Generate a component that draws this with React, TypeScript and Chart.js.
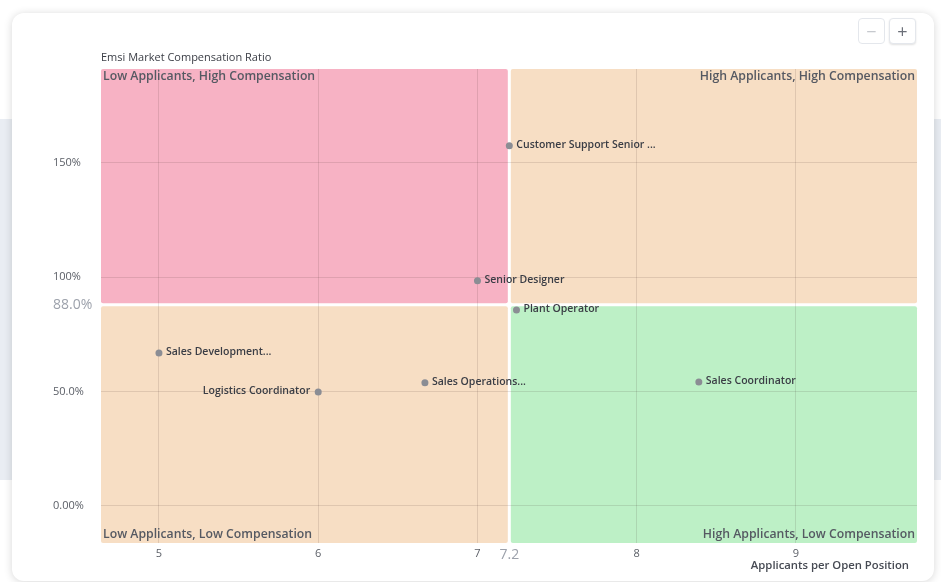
import React, { useEffect, useRef } from 'react';
import { Chart, registerables } from 'chart.js';

Chart.register(...registerables);

const jobTitles = [
  'Customer Support Senior ...',
  'Senior Designer',
  'Plant Operator',
  'Sales Development...',
  'Logistics Coordinator',
  'Sales Operations...',
  'Sales Coordinator',
];
const applicantsPerOpening = [7.2, 7.0, 7.245, 5.0, 6.0, 6.67, 8.39];
const compensationRatio = [157.4, 98.4, 85.7, 66.9, 49.8, 53.8, 54.2];
const labelOnLeft = ['Logistics Coordinator'];

const xThreshold = 7.2;
const yThreshold = 88;
const xTickValues = [5, 6, 7, 7.2, 8, 9];
const xTickLabels = ['5', '6', '7', '7.2', '8', '9'];
const yTickValues = [0, 50, 88, 100, 150];
const yTickLabels = ['0.00%', '50.0%', '88.0%', '100%', '150%'];

const quadrantNames = {
  topLeft: 'Low Applicants, High Compensation',
  topRight: 'High Applicants, High Compensation',
  bottomLeft: 'Low Applicants, Low Compensation',
  bottomRight: 'High Applicants, Low Compensation',
};
const yAxisTitle = 'Emsi Market Compensation Ratio';
const xAxisTitle = 'Applicants per Open Position';

const FONT = '"Open Sans", "Noto Sans", sans-serif';

function rr(ctx: CanvasRenderingContext2D, x: number, y: number, w: number, h: number, r: number) {
  ctx.beginPath();
  ctx.moveTo(x + r, y);
  ctx.lineTo(x + w - r, y);
  ctx.quadraticCurveTo(x + w, y, x + w, y + r);
  ctx.lineTo(x + w, y + h - r);
  ctx.quadraticCurveTo(x + w, y + h, x + w - r, y + h);
  ctx.lineTo(x + r, y + h);
  ctx.quadraticCurveTo(x, y + h, x, y + h - r);
  ctx.lineTo(x, y + r);
  ctx.quadraticCurveTo(x, y, x + r, y);
  ctx.closePath();
  ctx.fill();
}

const quadrantPlugin = {
  id: 'quadrants',
  beforeDraw(chart: any) {
    const { ctx, chartArea } = chart;
    const { left, right, top, bottom } = chartArea;
    const xs = chart.scales.x.getPixelForValue(xThreshold);
    const ys = chart.scales.y.getPixelForValue(yThreshold);
    const g = 1.5;
    ctx.save();
    ctx.fillStyle = '#f7b2c4';
    rr(ctx, left, top, xs - g - left, ys - g - top, 2);
    ctx.fillStyle = '#f7dec4';
    rr(ctx, xs + g, top, right - xs - g, ys - g - top, 2);
    rr(ctx, left, ys + g, xs - g - left, bottom - ys - g, 2);
    ctx.fillStyle = '#bdf0c6';
    rr(ctx, xs + g, ys + g, right - xs - g, bottom - ys - g, 2);
    ctx.restore();
  },
  afterDatasetsDraw(chart: any) {
    const { ctx, chartArea } = chart;
    const { left, right, top, bottom } = chartArea;
    ctx.save();
    ctx.textBaseline = 'middle';
    ctx.fillStyle = '#555962';
    ctx.font = `600 12.25px ${FONT}`;
    ctx.textAlign = 'left';
    ctx.fillText(quadrantNames.topLeft, left + 2, top + 7.5);
    ctx.fillText(quadrantNames.bottomLeft, left + 2, bottom - 8.5);
    ctx.textAlign = 'right';
    ctx.fillText(quadrantNames.topRight, right - 2, top + 7.5);
    ctx.fillText(quadrantNames.bottomRight, right - 2, bottom - 8.5);

    // point labels
    const meta = chart.getDatasetMeta(0);
    ctx.font = `600 10.5px ${FONT}`;
    ctx.fillStyle = '#3a3d45';
    meta.data.forEach((pt: any, i: number) => {
      const name = jobTitles[i];
      if (labelOnLeft.includes(name)) {
        ctx.textAlign = 'right';
        ctx.fillText(name, pt.x - 8, pt.y - 1);
      } else {
        ctx.textAlign = 'left';
        ctx.fillText(name, pt.x + 7, pt.y - 1);
      }
    });

    // axis titles
    ctx.fillStyle = '#3a3d45';
    ctx.font = `11px ${FONT}`;
    ctx.textAlign = 'left';
    ctx.fillText(yAxisTitle, left, top - 11);
    ctx.font = `600 11.3px ${FONT}`;
    ctx.fillStyle = '#464a53';
    ctx.textAlign = 'right';
    ctx.fillText(xAxisTitle, right - 8, bottom + 23);
    ctx.restore();
  },
};

function ChartView() {
  const ref = useRef<HTMLCanvasElement>(null);
  useEffect(() => {
    if (!ref.current) return;
    Chart.defaults.font.family = FONT;
    const gridColor = (ctx: any, th: number) =>
      ctx.tick && Math.abs(ctx.tick.value - th) < 1e-9 ? 'rgba(0,0,0,0)' : 'rgba(60,40,40,0.13)';
    const tickFont = (ctx: any, th: number) =>
      ctx.tick && Math.abs(ctx.tick.value - th) < 1e-9 ? { size: 14, family: FONT } : { size: 11, family: FONT };
    const tickColor = (ctx: any, th: number) =>
      ctx.tick && Math.abs(ctx.tick.value - th) < 1e-9 ? '#9ca1ab' : '#5a5e66';
    const chart = new Chart(ref.current, {
      type: 'scatter',
      data: {
        datasets: [
          {
            label: 'Jobs',
            data: applicantsPerOpening.map((x, i) => ({ x, y: compensationRatio[i] })),
            pointRadius: 3.5,
            pointHoverRadius: 3.5,
            pointBackgroundColor: '#8b8d94',
            pointBorderColor: '#8b8d94',
            pointBorderWidth: 0,
          },
        ],
      },
      plugins: [quadrantPlugin],
      options: {
        responsive: false,
        animation: false,
        layout: { padding: { left: 53, right: 24, top: 69, bottom: 0 } },
        plugins: { legend: { display: false }, tooltip: { enabled: false }, title: { display: false } },
        scales: {
          x: {
            type: 'linear',
            min: 4.636,
            max: 9.76,
            afterBuildTicks: (s: any) => {
              s.ticks = xTickValues.map((v) => ({ value: v }));
            },
            afterFit: (s: any) => {
              s.height = 39;
            },
            border: { display: false },
            grid: { color: (c: any) => gridColor(c, xThreshold), drawTicks: false, lineWidth: 1 },
            ticks: {
              autoSkip: false,
              maxRotation: 0,
              padding: 4,
              font: (c: any) => tickFont(c, xThreshold),
              color: (c: any) => tickColor(c, xThreshold),
              callback: (v: any) => xTickLabels[xTickValues.indexOf(Number(v))] ?? String(v),
            },
          },
          y: {
            type: 'linear',
            min: -16.2,
            max: 191,
            afterBuildTicks: (s: any) => {
              s.ticks = yTickValues.map((v) => ({ value: v }));
            },
            afterFit: (s: any) => {
              s.width = 48;
            },
            border: { display: false },
            grid: { color: (c: any) => gridColor(c, yThreshold), drawTicks: false, lineWidth: 1 },
            ticks: {
              autoSkip: false,
              crossAlign: 'far',
              font: (c: any) => tickFont(c, yThreshold),
              color: (c: any) => tickColor(c, yThreshold),
              callback: (v: any) => yTickLabels[yTickValues.indexOf(Number(v))] ?? String(v),
            },
          },
        },
      } as any,
    });
    return () => chart.destroy();
  }, []);
  return (
    <canvas
      ref={ref}
      width={941}
      height={582}
      style={{ position: 'absolute', left: 0, top: 0, width: 941, height: 582 }}
    />
  );
}

export default function App() {
  const btn: React.CSSProperties = {
    position: 'absolute',
    top: 18,
    width: 27,
    height: 26,
    border: '1px solid #e4e7ec',
    borderRadius: 4,
    background: '#fff',
    display: 'flex',
    alignItems: 'center',
    justifyContent: 'center',
    fontFamily: FONT,
    fontSize: 18,
    lineHeight: '18px',
    boxSizing: 'border-box',
  };
  return (
    <div style={{ position: 'fixed', left: 0, top: 0, width: 941, height: 582, background: '#fff', overflow: 'hidden' }}>
      <div style={{ position: 'absolute', left: 0, top: 119, width: 941, height: 361, background: '#e9edf3' }} />
      <div
        style={{
          position: 'absolute',
          left: 12,
          top: 13,
          width: 922,
          height: 568,
          background: '#fff',
          borderRadius: 12,
          boxShadow: '0 1px 8px rgba(0,0,0,0.16)',
        }}
      />
      <ChartView />
      <div style={{ ...btn, left: 858, color: '#c4c7cc' }}>−</div>
      <div style={{ ...btn, left: 889, color: '#6b6f78', boxShadow: '0 1px 2px rgba(0,0,0,0.12)' }}>+</div>
    </div>
  );
}
